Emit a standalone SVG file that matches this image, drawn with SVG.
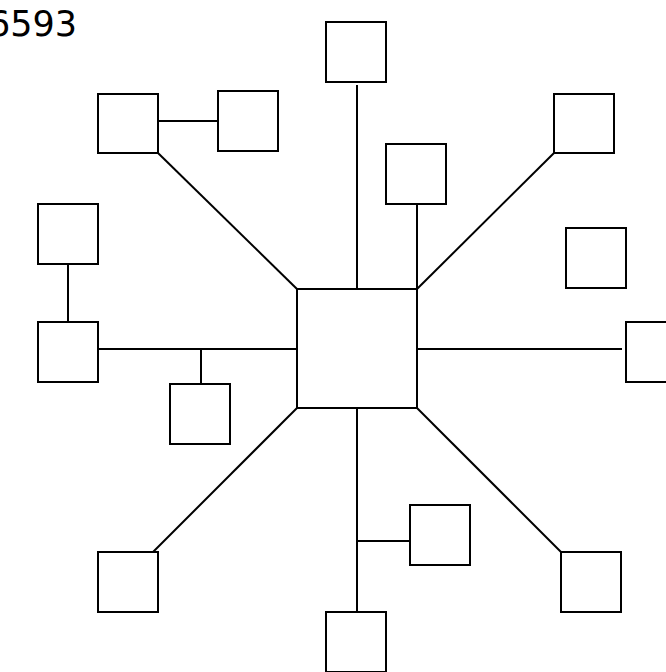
<svg xmlns="http://www.w3.org/2000/svg" width="666" height="672" viewBox="0 0 666 672">
<style>
.n{fill:#fff;stroke:#000;stroke-width:2}
.c line{stroke:#000;stroke-width:2}
.t{font-family:"DejaVu Sans",sans-serif;font-size:35px;fill:#000}
</style>
<rect width="666" height="672" fill="#fff"/>
<text class="t" x="-12" y="36">6593</text>
<g class="c" id="connectors">
<line x1="357" y1="85" x2="357" y2="289"/>
<line x1="417" y1="205" x2="417" y2="289"/>
<line x1="554" y1="153" x2="417" y2="289"/>
<line x1="158" y1="153" x2="297" y2="289"/>
<line x1="158" y1="121" x2="218" y2="121"/>
<line x1="68" y1="264" x2="68" y2="322"/>
<line x1="98" y1="349" x2="297" y2="349"/>
<line x1="201" y1="349" x2="201" y2="384"/>
<line x1="417" y1="349" x2="622" y2="349"/>
<line x1="297" y1="408" x2="153" y2="552"/>
<line x1="417" y1="408" x2="561" y2="552"/>
<line x1="357" y1="408" x2="357" y2="612"/>
<line x1="357" y1="541" x2="410" y2="541"/>
</g>
<g id="center"><rect class="n" x="297" y="289" width="120" height="119"/></g>
<g id="top"><rect class="n" x="326" y="22" width="60" height="60"/></g>
<g id="top2"><rect class="n" x="386" y="144" width="60" height="60"/></g>
<g id="topright"><rect class="n" x="554" y="94" width="60" height="59"/></g>
<g id="topleft"><rect class="n" x="98" y="94" width="60" height="59"/></g>
<g id="topleft2"><rect class="n" x="218" y="91" width="60" height="60"/></g>
<g id="left1"><rect class="n" x="38" y="204" width="60" height="60"/></g>
<g id="left2"><rect class="n" x="38" y="322" width="60" height="60"/></g>
<g id="left3"><rect class="n" x="170" y="384" width="60" height="60"/></g>
<g id="right1"><rect class="n" x="566" y="228" width="60" height="60"/></g>
<g id="right2"><rect class="n" x="626" y="322" width="60" height="60"/></g>
<g id="bottomleft"><rect class="n" x="98" y="552" width="60" height="60"/></g>
<g id="bottomright"><rect class="n" x="561" y="552" width="60" height="60"/></g>
<g id="bottom1"><rect class="n" x="410" y="505" width="60" height="60"/></g>
<g id="bottom2"><rect class="n" x="326" y="612" width="60" height="60"/></g>
</svg>
